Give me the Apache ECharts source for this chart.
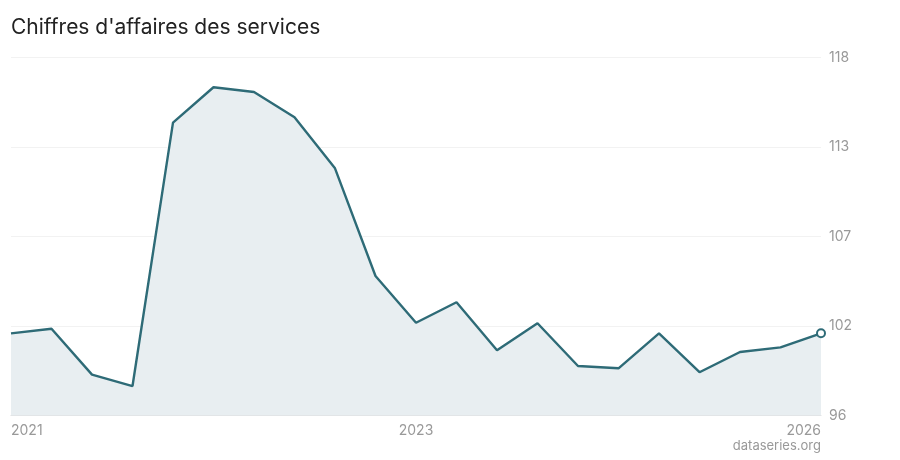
<!DOCTYPE html>
<html>
<head>
<meta charset="utf-8">
<script src="https://cdn.jsdelivr.net/npm/echarts@6/dist/echarts.min.js"></script>
<style>
  html, body { margin: 0; padding: 0; background: #fff; }
  #chart { width: 900px; height: 460px; }
</style>
</head>
<body>
<div id="chart"></div>
<script>
// trimestres, de 2021 T1 a 2026 T1
var quarters = [
    "2021-01", "2021-04", "2021-07", "2021-10",
    "2022-01", "2022-04", "2022-07", "2022-10",
    "2023-01", "2023-04", "2023-07", "2023-10",
    "2024-01", "2024-04", "2024-07", "2024-10",
    "2025-01", "2025-04", "2025-07", "2025-10",
    "2026-01"
];
var values = [
    101.05, 101.33, 98.51, 97.81,
    114.0, 116.17, 115.88, 114.33,
    111.19, 104.57, 101.70, 102.96,
    100.01, 101.67, 99.04, 98.90,
    101.05, 98.66, 99.90, 100.19,
    101.05
];
var yTicks = [96, 101.5, 107, 112.5, 118];
var labelIdx = [0, 10, 20];

var fontFamily = "Inter, 'Noto Sans', sans-serif";

var chart = echarts.init(document.getElementById("chart"));

// seulement le dernier point avec symbole
var seriesData = values.map(function (v, i) {
    return i === values.length - 1 ? { value: v } : { value: v, symbol: "none" };
});

var option = {
    animation: false,
    title: {
        text: "Chiffres d'affaires des services",
        left: 6,
        top: 12,
        textStyle: { fontFamily: fontFamily, fontSize: 21, fontWeight: 400, color: "#222" }
    },
    graphic: [{
        type: "text",
        right: 79,
        top: 440,
        style: { text: "dataseries.org", font: "13px " + fontFamily, fill: "#999" }
    }],
    grid: { left: 11, right: 79, top: 57.5, bottom: 44.5 },
    xAxis: {
        type: "category",
        data: quarters,
        boundaryGap: false,
        axisLine: { lineStyle: { color: "#dddddd", width: 1 } },
        axisTick: { show: false },
        axisLabel: {
            interval: function (i) { return labelIdx.indexOf(i) >= 0; },
            formatter: function (v) { return v.slice(0, 4); },
            alignMinLabel: "left",
            alignMaxLabel: "right",
            color: "#999",
            fontFamily: fontFamily,
            fontSize: 14,
            margin: 8
        },
        splitLine: { show: false }
    },
    yAxis: {
        type: "value",
        position: "right",
        min: 96,
        max: 118,
        axisLine: { show: false },
        axisTick: { show: false, customValues: yTicks },
        axisLabel: {
            customValues: yTicks,
            formatter: function (v) { return Math.round(v); },
            color: "#999",
            fontFamily: fontFamily,
            fontSize: 14,
            margin: 8
        },
        splitLine: { show: true, lineStyle: { color: "#f2f2f2", width: 1 } }
    },
    series: [{
        type: "line",
        data: seriesData,
        symbol: "circle",
        symbolSize: 8,
        itemStyle: { color: "#fff", borderColor: "#2e6b77", borderWidth: 2 },
        lineStyle: { color: "#2e6b77", width: 2.4 },
        areaStyle: { color: "#e8eef1", opacity: 1, origin: "start" },
        emphasis: { disabled: true }
    }]
};

chart.setOption(option);
</script>
</body>
</html>
